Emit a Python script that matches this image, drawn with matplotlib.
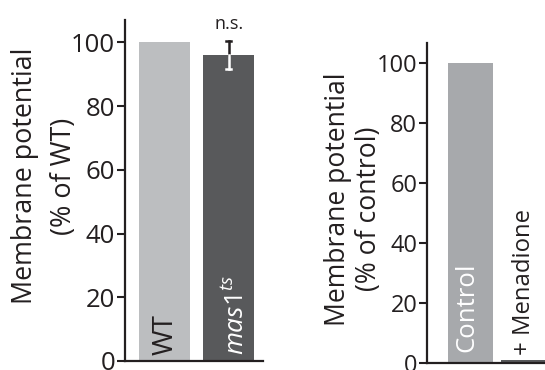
import matplotlib
matplotlib.use("Agg")
import matplotlib.pyplot as plt

plt.rcParams['font.family'] = ['Open Sans', 'DejaVu Sans']
plt.rcParams['mathtext.fontset'] = 'custom'
plt.rcParams['mathtext.it'] = 'Open Sans:italic'
plt.rcParams['mathtext.rm'] = 'Open Sans'

# Data
left_categories = ["WT", "mas1ts"]
left_values = [100, 96]
left_errors = [0, 4.4]
right_categories = ["Control", "+ Menadione"]
right_values = [100, 0.8]
ticks = [0, 20, 40, 60, 80, 100]

W, H = 545, 370
fig = plt.figure(figsize=(W / 100, H / 100), dpi=100)

axL = fig.add_axes([125/W, 1-361/H, 138/W, 341/H])
axR = fig.add_axes([427/W, 1-362.7/H, 118/W, 319.7/H])

ink = "#231f20"
for ax in (axL, axR):
    for s in ("top", "right"):
        ax.spines[s].set_visible(False)
    for s in ("left", "bottom"):
        ax.spines[s].set_linewidth(1.6)
        ax.spines[s].set_color(ink)
    ax.set_xticks([])
    ax.set_yticks(ticks)
    ax.tick_params(axis="y", length=6, width=1.5, color=ink, pad=1)

# Left panel
xl = [0, 1]
axL.bar(xl, left_values, width=0.79, color=["#bcbec0", "#58595b"], zorder=1)
axL.set_xlim(-0.61, 1.53)
axL.set_ylim(0, 107)
axL.tick_params(axis="y", labelsize=18.5, labelcolor=ink)
v, e = left_values[1], left_errors[1]
axL.plot([xl[1], xl[1]], [v, v + e], color=ink, lw=1.8, zorder=3, clip_on=False)
axL.plot([xl[1] - 0.04, xl[1] + 0.04], [v + e, v + e], color=ink, lw=1.8, zorder=3)
axL.plot([xl[1], xl[1]], [v - e, v], color="white", lw=1.8, zorder=3)
axL.plot([xl[1] - 0.04, xl[1] + 0.04], [v - e, v - e], color="white", lw=1.8, zorder=3)
fig.text(229/W, 1-29/H, "n.s.", ha="center", va="baseline", fontsize=13, color=ink)

axL.text(0.13, 1.9, left_categories[0], rotation=90, rotation_mode="anchor",
         ha="left", va="baseline", fontsize=20, color=ink)
axL.text(1.23, 1.9, r"$\mathit{mas1}^{\mathit{ts}}$", rotation=90, rotation_mode="anchor",
         ha="left", va="baseline", fontsize=19, color="white")

fig.text(32/W, 1-176/H, "Membrane potential", rotation=90, rotation_mode="anchor",
         ha="center", va="baseline", fontsize=19.4, color=ink)
fig.text(71/W, 1-176.5/H, "(% of WT)", rotation=90, rotation_mode="anchor",
         ha="center", va="baseline", fontsize=19.4, color=ink)

# Right panel
xr = [0, 1]
axR.bar(xr, right_values, width=0.85, color=["#a7a9ac", "#58595b"], zorder=1)
axR.set_xlim(-0.82, 1.40)
axR.set_ylim(0, 106.7)
axR.tick_params(axis="y", labelsize=17, labelcolor=ink)
axR.text(0.047, 3.5, right_categories[0], rotation=90, rotation_mode="anchor",
         ha="left", va="baseline", fontsize=18.5, color="white")
axR.text(1.12, 2.6, right_categories[1], rotation=90, rotation_mode="anchor",
         ha="left", va="baseline", fontsize=17.2, color=ink)

fig.text(345/W, 1-199/H, "Membrane potential", rotation=90, rotation_mode="anchor",
         ha="center", va="baseline", fontsize=19.1, color=ink)
fig.text(376/W, 1-209/H, "(% of control)", rotation=90, rotation_mode="anchor",
         ha="center", va="baseline", fontsize=19.1, color=ink)

fig.savefig("out.png", dpi=100)
